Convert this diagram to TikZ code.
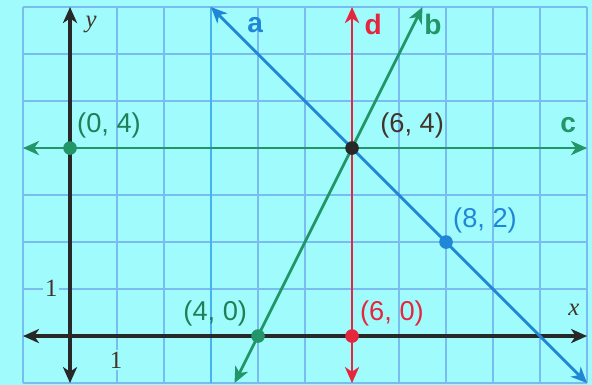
\documentclass[tikz,border=0pt]{standalone}
\usepackage{fontspec}
\setmainfont{Liberation Serif}
\newfontfamily\lblfont{Liberation Sans}
\usetikzlibrary{arrows.meta}
\definecolor{bgcyan}{RGB}{160,252,252}
\definecolor{gridblue}{RGB}{120,188,240}
\definecolor{gridmark}{RGB}{70,178,240}
\definecolor{lngreen}{RGB}{34,150,104}
\definecolor{lnblue}{RGB}{32,134,214}
\definecolor{lnred}{RGB}{228,38,62}
\definecolor{axgray}{RGB}{40,40,40}
\definecolor{txdark}{RGB}{66,52,44}

\begin{document}
\begin{tikzpicture}[>={Stealth[length=3.4mm,width=3mm,inset=1mm]},
  axis/.style={<->,line width=2.1pt,draw=axgray},
  graphline/.style={<->,line width=1.7pt},
  dot/.style={circle,fill,inner sep=0pt,minimum size=2.9mm},
  coordlbl/.style={font=\lblfont\fontsize{16.5}{18}\selectfont,inner sep=1pt},
  linelbl/.style={font=\lblfont\bfseries\fontsize{17}{19}\selectfont,inner sep=1pt},
  ticklbl/.style={font=\fontsize{15}{17}\selectfont,text=txdark,fill=bgcyan,inner sep=1pt}]
\useasboundingbox (-1.49,-1.04) rectangle (11.106,7.15);
\fill[bgcyan] (-1.49,-1.04) rectangle (11.106,7.15);
\draw[gridblue,line width=0.7pt] (-1,-1) grid (11,7);
\draw[gridmark,line width=0.9pt] (3,-1) -- (3,7);
% axes
\coordinate (xL) at (-1,0);
\coordinate (xR) at (11,0);
\coordinate (yB) at (0,-1);
\coordinate (yT) at (0,7);
\node[ticklbl] (t1y) at (-0.4,1.02) {1};
\node[ticklbl] (t1x) at (0.98,-0.51) {1};
\draw[axis] (xL) -- (xR);
\draw[axis] (yB) -- (yT);
\node[font=\itshape\fontsize{15}{17}\selectfont,text=txdark] (xlbl) at (10.72,0.55) {x};
\node[font=\itshape\fontsize{15}{17}\selectfont,text=txdark] (ylbl) at (0.45,6.62) {y};
% the four lines
\coordinate (aT) at (3,7);
\coordinate (aB) at (11,-1);
\coordinate (bT) at (7.5,7);
\coordinate (bB) at (3.5,-1);
\coordinate (cL) at (-1,4);
\coordinate (cR) at (11,4);
\coordinate (dT) at (6,7);
\coordinate (dB) at (6,-1);
\draw[graphline,lnred] (dB) -- (dT);
\draw[graphline,lngreen] (cL) -- (cR);
\draw[graphline,lnblue] (aT) -- (aB);
\draw[graphline,lngreen] (bB) -- (bT);
\node[linelbl,text=lnblue] (alb) at (3.94,6.62) {a};
\node[linelbl,text=lngreen] (blb) at (7.72,6.62) {b};
\node[linelbl,text=lngreen] (clb) at (10.6,4.49) {c};
\node[linelbl,text=lnred] (dlb) at (6.45,6.62) {d};
% points
\node[dot,lngreen] (p04) at (0,4) {};
\node[dot,axgray] (p64) at (6,4) {};
\node[dot,lnblue] (p82) at (8,2) {};
\node[dot,lngreen] (p40) at (4,0) {};
\node[dot,lnred] (p60) at (6,0) {};
\node[coordlbl,text=lngreen!85!black] (l04) at (0.83,4.49) {(0, 4)};
\node[coordlbl,text=txdark] (l64) at (7.28,4.49) {(6, 4)};
\node[coordlbl,text=lnblue] (l82) at (8.83,2.47) {(8, 2)};
\node[coordlbl,text=lngreen!85!black] (l40) at (3.09,0.49) {(4, 0)};
\node[coordlbl,text=lnred] (l60) at (6.85,0.49) {(6, 0)};
\end{tikzpicture}
\end{document}
